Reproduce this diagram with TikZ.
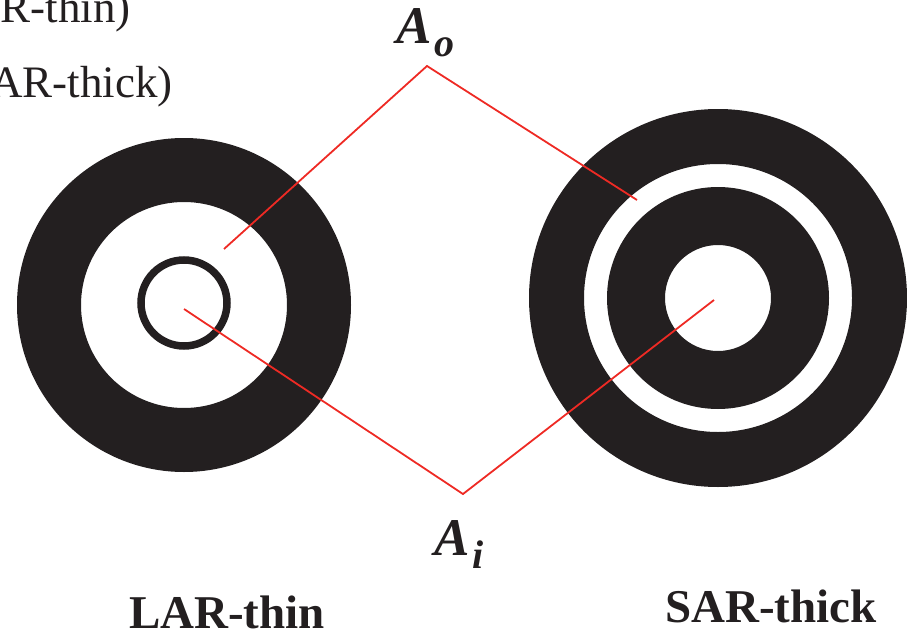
\documentclass[tikz,border=0pt]{standalone}
\usepackage{fontspec}
\setmainfont{Liberation Serif}
\definecolor{ink}{HTML}{231F20}
\definecolor{lred}{HTML}{EE2A24}
\newcommand{\sublow}[1]{\kern3pt\raisebox{-13pt}{\fontsize{40}{44}\selectfont #1}}
\tikzset{
  redline/.style={draw=lred, line width=1.8pt},
  lbl/.style={inner sep=0pt, text=ink, font=\fontsize{45}{50}\selectfont},
  captext/.style={inner sep=0pt, text=ink, font=\fontsize{47}{52}\selectfont\bfseries},
  alab/.style={inner sep=0pt, text=ink, font=\fontsize{53}{58}\selectfont\bfseries\itshape}
}
\begin{document}
\begin{tikzpicture}[x=1pt,y=-1pt]
\useasboundingbox (0,0) rectangle (907,634);
% left ring
\fill[ink,even odd rule] (184,305) circle (167pt) (184,305) circle (103pt);
\draw[ink, line width=7.5pt] (184,303) circle (43pt);
% right ring
\fill[ink,even odd rule] (718,298) circle (189pt) (718,298) circle (134pt)
  (718,298) circle (111pt) (718,298) circle (53pt);
% red connectors
\coordinate (lo) at (224,249);
\coordinate (ao) at (427,66);
\coordinate (ro) at (637,200);
\coordinate (li) at (184,309);
\coordinate (ai) at (463,494);
\coordinate (ri) at (714,300);
\draw[redline] (lo) -- (ao) -- (ro);
\draw[redline] (li) -- (ai) -- (ri);
% labels
\node[lbl, anchor=base east] (t1) at (131,23) {R-thin)};
\node[lbl, anchor=base east] (t2) at (173,97) {AR-thick)};
\node[alab, anchor=base west] (Ao) at (396,44) {A\sublow{o}};
\node[alab, anchor=base west] (Ai) at (434,555) {A\sublow{i}};
\node[captext, anchor=base] (c1) at (227,628) {LAR-thin};
\node[captext, anchor=base] (c2) at (771,622) {SAR-thick};
\end{tikzpicture}
\end{document}
